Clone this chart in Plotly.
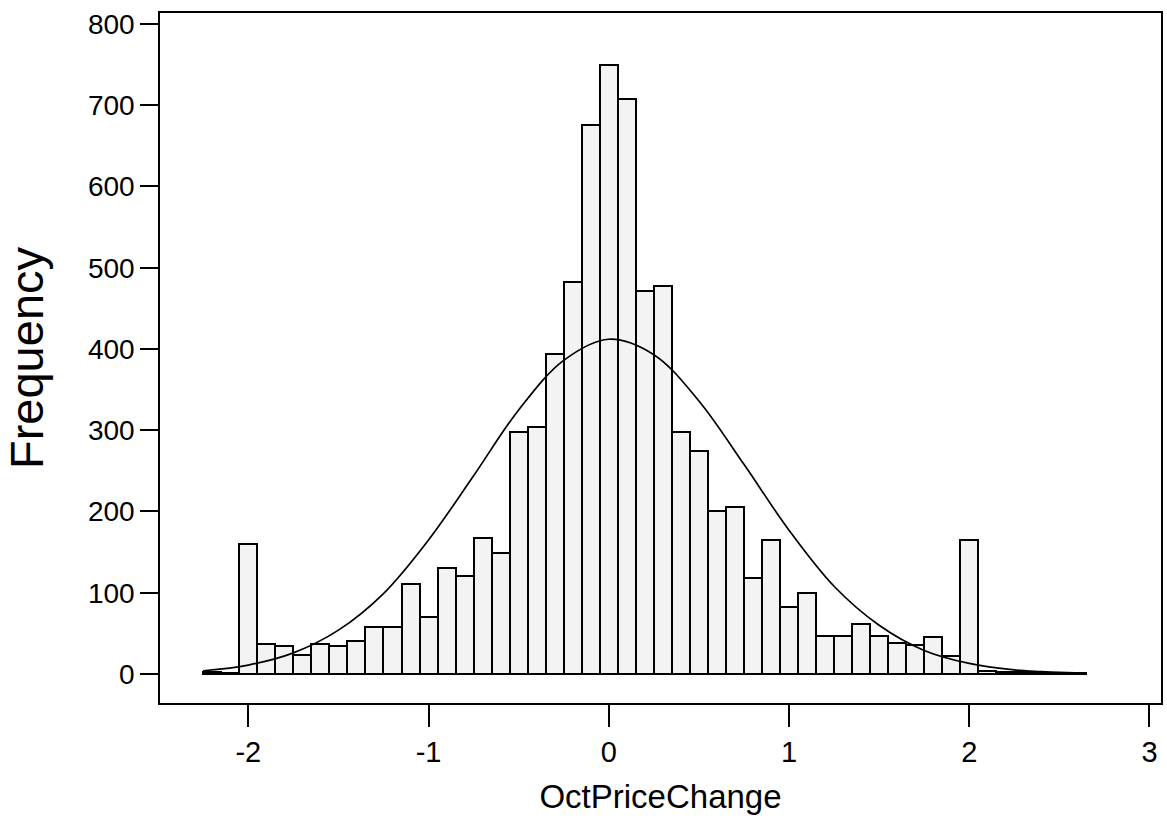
import plotly.graph_objects as go

# Histogram bin centers (bin width 0.1) and frequencies
bin_centers = [-2.2, -2.1, -2.0, -1.9, -1.8, -1.7, -1.6, -1.5, -1.4, -1.3, -1.2,
               -1.1, -1.0, -0.9, -0.8, -0.7, -0.6, -0.5, -0.4, -0.3, -0.2, -0.1,
               0.0, 0.1, 0.2, 0.3, 0.4, 0.5, 0.6, 0.7, 0.8, 0.9, 1.0, 1.1, 1.2,
               1.3, 1.4, 1.5, 1.6, 1.7, 1.8, 1.9, 2.0, 2.1, 2.2, 2.3, 2.4, 2.5, 2.6]
frequencies = [3, 1, 160, 37, 34, 23, 37, 35, 40, 58, 58,
               111, 70, 130, 120, 167, 149, 298, 304, 394, 483, 676,
               749, 708, 471, 477, 298, 274, 201, 205, 118, 165, 83, 100, 47,
               47, 62, 47, 38, 36, 45, 22, 165, 4, 2, 3, 1, 1, 1]
bin_width = 0.1

# Fitted normal curve
curve_x = [-2.25, -2.0, -1.75, -1.5, -1.25, -1.0, -0.75, -0.5, -0.25, 0.0, 0.25,
           0.5, 0.75, 1.0, 1.25, 1.5, 1.75, 2.0, 2.25, 2.4, 2.5, 2.63]
curve_y = [4, 11, 26, 54, 99, 165, 244, 325, 386, 412, 393,
           336, 258, 177, 108, 60, 29, 13, 5, 3, 2, 1]

x_ticks = [-2, -1, 0, 1, 2, 3]
y_ticks = [0, 100, 200, 300, 400, 500, 600, 700, 800]

fig = go.Figure()
fig.add_trace(go.Bar(
    x=bin_centers, y=frequencies, width=bin_width,
    marker=dict(color="#f3f3f3", line=dict(color="black", width=2)),
    showlegend=False, hoverinfo="x+y"))
fig.add_trace(go.Scatter(
    x=curve_x, y=curve_y, mode="lines",
    line=dict(color="black", width=1.7, shape="spline"),
    showlegend=False))

font_main = "Liberation Sans, Arial, sans-serif"

fig.update_layout(
    width=1167, height=831,
    margin=dict(l=160, r=4, t=13, b=128),
    paper_bgcolor="white", plot_bgcolor="white",
    bargap=0,
    xaxis=dict(
        range=[-2.49, 3.064], tickvals=x_ticks, ticktext=[str(v) for v in x_ticks],
        showgrid=False, zeroline=False,
        showline=True, mirror=True, linecolor="black", linewidth=1.5,
        ticks="outside", ticklen=22, tickwidth=1.5, tickcolor="black",
        tickfont=dict(family=font_main, size=29, color="black"),
        title=dict(text="OctPriceChange", standoff=18,
                   font=dict(family=font_main, size=33, color="black")),
    ),
    yaxis=dict(
        range=[-35.7, 813.5], tickvals=y_ticks, ticktext=[str(v) for v in y_ticks],
        showgrid=False, zeroline=False,
        showline=True, mirror=True, linecolor="black", linewidth=1.5,
        ticks="outside", ticklen=18, tickwidth=1.5, tickcolor="black",
        tickfont=dict(family=font_main, size=28, color="black"),
        title=dict(text="Frequency", standoff=30,
                   font=dict(family=font_main, size=47, color="black")),
    ),
)

fig.write_html("out.html")
